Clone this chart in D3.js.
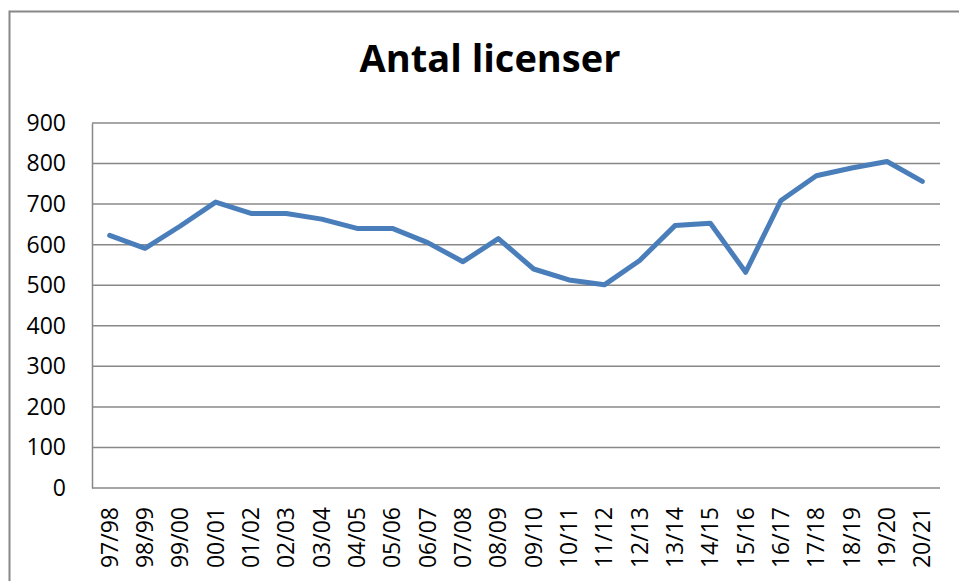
<!DOCTYPE html>
<html>
<head>
<meta charset="utf-8">
<script src="https://cdn.jsdelivr.net/npm/d3@7"></script>
<style>
  body { margin: 0; background: #fff; }
  text { font-family: "Open Sans", "Liberation Sans", sans-serif; fill: #000; }
</style>
</head>
<body>
<div class="chart"></div>
<script>
// data
var seasons = ["97/98", "98/99", "99/00", "00/01", "01/02", "02/03", "03/04", "04/05",
  "05/06", "06/07", "07/08", "08/09", "09/10", "10/11", "11/12", "12/13", "13/14",
  "14/15", "15/16", "16/17", "17/18", "18/19", "19/20", "20/21"];
var licenses = [623, 591, 646, 705, 677, 677, 663, 640, 640, 605, 558, 615, 540, 513,
  501, 561, 647, 653, 532, 709, 770, 789, 805, 756];
var yTicks = [0, 100, 200, 300, 400, 500, 600, 700, 800, 900];

var svgWidth = 959;
var svgHeight = 581;
var margin = { top: 123, right: 19, bottom: 93, left: 92 };
var width = svgWidth - margin.left - margin.right;
var height = svgHeight - margin.top - margin.bottom;

var svg = d3.select(".chart")
  .append("svg")
  .attr("width", svgWidth)
  .attr("height", svgHeight);

// outer chart border (bottom is cut off in the original)
svg.append("path")
  .attr("d", "M9.5," + svgHeight + "V11.5H" + svgWidth)
  .attr("fill", "none")
  .attr("stroke", "#888")
  .attr("stroke-width", 2);

svg.append("text")
  .attr("x", 490)
  .attr("y", 72)
  .attr("text-anchor", "middle")
  .style("font-size", "38px")
  .style("font-weight", "bold")
  .text("Antal licenser");

var chart = svg.append("g")
  .attr("transform", "translate(" + margin.left + "," + margin.top + ")");

var x = d3.scaleBand().domain(seasons).range([0, width]);
var y = d3.scaleLinear().domain([0, 900]).range([height, 0]);

// horizontal gridlines
chart.append("g")
  .selectAll("line")
  .data(yTicks)
  .enter()
  .append("line")
  .attr("x1", 0)
  .attr("x2", width)
  .attr("y1", function(d) { return y(d); })
  .attr("y2", function(d) { return y(d); })
  .attr("stroke", "#888")
  .attr("stroke-width", 1.5);

// y axis
var leftAxis = d3.axisLeft(y).tickValues(yTicks).tickSize(0).tickPadding(26);
var gy = chart.append("g").call(leftAxis);
gy.select(".domain").attr("stroke", "#888").attr("stroke-width", 1.5);
gy.selectAll("text").style("font-size", "23px").attr("fill", "#000");

// x axis
var bottomAxis = d3.axisBottom(x).tickSize(0);
var gx = chart.append("g")
  .attr("transform", "translate(0," + height + ")")
  .call(bottomAxis);
gx.select(".domain").remove();
gx.selectAll("text")
  .style("font-size", "23px")
  .attr("fill", "#000")
  .attr("text-anchor", "end")
  .attr("transform", "rotate(-90)")
  .attr("x", -19)
  .attr("y", 0)
  .attr("dy", "0.35em");

// the series
var line = d3.line()
  .x(function(d, i) { return x(seasons[i]) + x.bandwidth() / 2; })
  .y(function(d) { return y(d); });

chart.append("path")
  .datum(licenses)
  .attr("d", line)
  .attr("fill", "none")
  .attr("stroke", "#4a7ebb")
  .attr("stroke-width", 5)
  .attr("stroke-linejoin", "round")
  .attr("stroke-linecap", "round");
</script>
</body>
</html>
